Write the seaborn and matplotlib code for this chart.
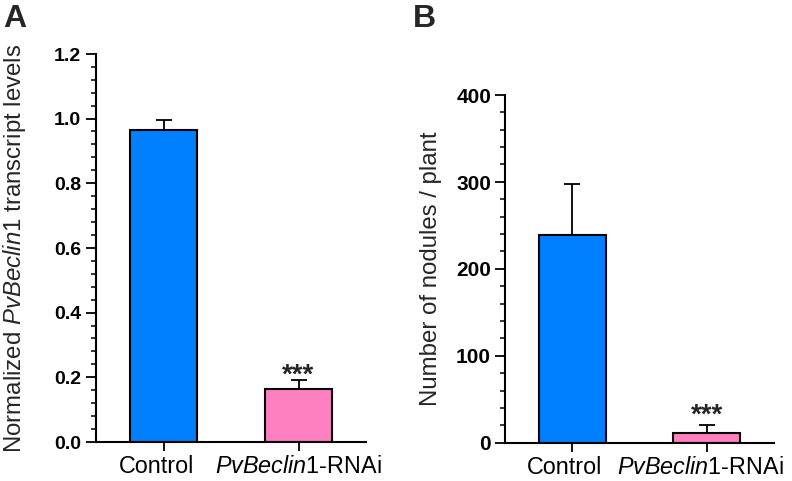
import matplotlib
matplotlib.use("Agg")
import matplotlib.pyplot as plt
import matplotlib.transforms as mtransforms
import seaborn as sns
import numpy as np
import pandas as pd
from matplotlib.ticker import MultipleLocator, FormatStrFormatter

# ---- data ----
categories_a = ["Control", "RNAi"]
values_a = [0.965, 0.163]
errors_a = [0.031, 0.029]
ticklabels_a = ["Control", r"$\it{PvBeclin1}$-RNAi"]

categories_b = ["Control", "RNAi"]
values_b = [239, 11]
errors_b = [59, 9]
ticklabels_b = ["Control", r"$\it{PvBeclin}$1-RNAi"]

significance = ["", "***"]
bar_colors = ["#0080FF", "#FF80C0"]

sns.set_theme(style="ticks")
plt.rcParams["font.family"] = ["Liberation Sans", "DejaVu Sans"]
plt.rcParams["mathtext.fontset"] = "custom"
plt.rcParams["mathtext.rm"] = "Liberation Sans"
plt.rcParams["mathtext.it"] = "Liberation Sans:italic"
plt.rcParams["mathtext.bf"] = "Liberation Sans:bold"

fig = plt.figure(figsize=(7.92, 4.812), dpi=100)
axA = fig.add_axes([96 / 792, 1 - 442 / 481, 270 / 792, 388 / 481])
axB = fig.add_axes([505 / 792, 1 - 442.7 / 481, 269 / 792, 347.7 / 481])


def draw(ax, cats, vals, errs, ticklabels, ylim, major, minor, fmt, ylabel,
         star_off, label_x, ytick_size, ytick_pad, xlabel_shift):
    df = pd.DataFrame({"cat": cats, "val": vals})
    sns.barplot(data=df, x="cat", y="val", hue="cat", palette=bar_colors,
                saturation=1, legend=False, width=0.5, edgecolor="black",
                linewidth=1.5, errorbar=None, ax=ax, zorder=2)
    xs = np.arange(len(cats))
    ax.errorbar(xs, vals, yerr=[np.zeros(len(errs)), errs], fmt="none",
                ecolor="black", elinewidth=1.3, capsize=5.8, capthick=1.3, zorder=1)
    for x, v, e, s in zip(xs, vals, errs, significance):
        if s:
            ax.annotate(s, (x, v + e), xytext=(0, star_off), textcoords="offset points",
                        ha="center", va="bottom", fontsize=20, fontweight="bold")
    ax.set_xlim(-0.5, 1.5)
    ax.set_ylim(*ylim)
    ax.yaxis.set_major_locator(MultipleLocator(major))
    ax.yaxis.set_minor_locator(MultipleLocator(minor))
    ax.yaxis.set_major_formatter(FormatStrFormatter(fmt))
    ax.set_xticks(xs)
    ax.set_xticklabels(ticklabels)
    ax.set_xlabel("")
    ax.set_ylabel(ylabel, fontsize=17.3)
    ax.yaxis.set_label_coords(label_x, 0.5)
    sns.despine(ax=ax)
    for sp in ["left", "bottom"]:
        ax.spines[sp].set_linewidth(1.5)
        ax.spines[sp].set_color("black")
    ax.tick_params(axis="y", which="major", length=7, width=1.3, pad=ytick_pad,
                   colors="black", labelsize=ytick_size)
    ax.tick_params(axis="y", which="minor", length=3.8, width=1.1, colors="black")
    ax.tick_params(axis="x", which="major", length=6.5, width=1.3, pad=3,
                   colors="black", labelsize=16.8)
    ax.tick_params(axis="x", which="minor", length=0)
    for lab in ax.get_yticklabels():
        lab.set_fontweight("bold")
    for lab, dx in zip(ax.get_xticklabels(), xlabel_shift):
        lab.set_transform(lab.get_transform() +
                          mtransforms.ScaledTranslation(dx / 100, 0, fig.dpi_scale_trans))


draw(axA, categories_a, values_a, errors_a, ticklabels_a, (0, 1.2), 0.2, 0.04, "%.1f",
     r"Normalized $\it{PvBeclin1}$ transcript levels", -6.5, -0.252, 14, 3.6, [-6.5, 0])
draw(axB, categories_b, values_b, errors_b, ticklabels_b, (0, 400), 100, 20, "%d",
     "Number of nodules / plant", -2.4, -0.234, 15, 3.0, [-7.5, -6])

fig.text(3 / 792, 1 - 27 / 481, "A", fontsize=23, fontweight="bold", ha="left", va="baseline")
fig.text(413 / 792, 1 - 27 / 481, "B", fontsize=23, fontweight="bold", ha="left", va="baseline")

fig.savefig("out.png", dpi=100)
